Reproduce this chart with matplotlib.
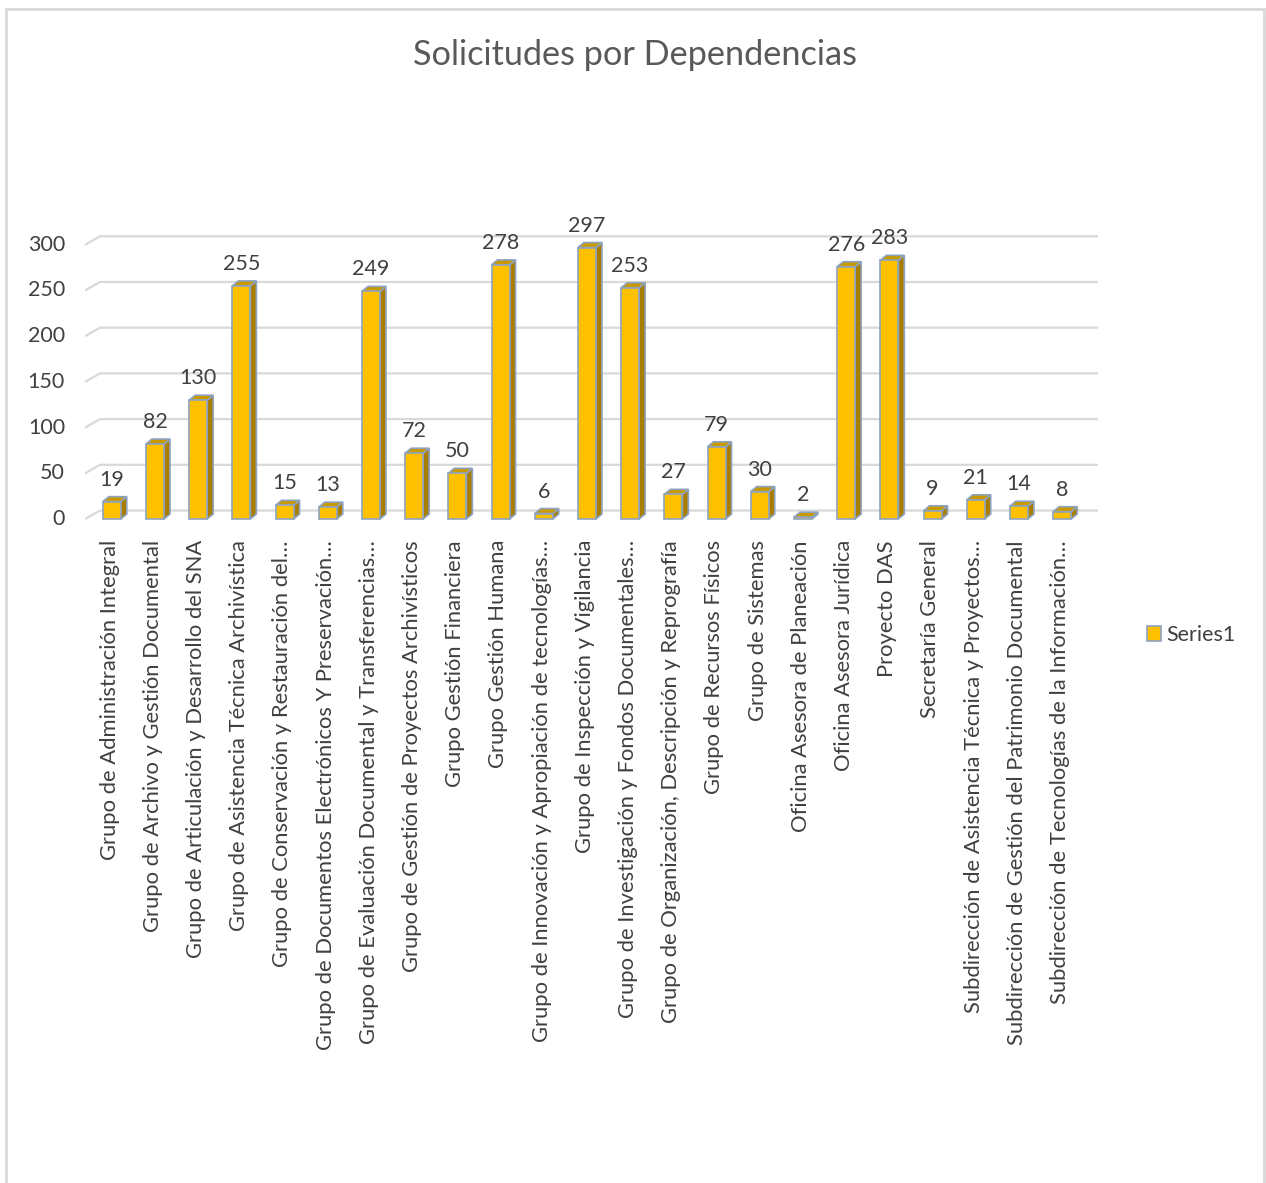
import matplotlib.pyplot as plt
from matplotlib.patches import Polygon, Rectangle, Patch
import matplotlib as mpl

mpl.rcParams['font.family'] = ['Lato', 'DejaVu Sans']

categories = [
    'Grupo de Administración Integral',
    'Grupo de Archivo y Gestión Documental',
    'Grupo de Articulación y Desarrollo del SNA',
    'Grupo de Asistencia Técnica Archivística',
    'Grupo de Conservación y Restauración del…',
    'Grupo de Documentos Electrónicos Y Preservación…',
    'Grupo de Evaluación Documental y Transferencias…',
    'Grupo de Gestión de Proyectos Archivísticos',
    'Grupo Gestión Financiera',
    'Grupo Gestión Humana',
    'Grupo de Innovación y Apropiación de tecnologías…',
    'Grupo de Inspección y Vigilancia',
    'Grupo de Investigación y Fondos Documentales…',
    'Grupo de Organización, Descripción y Reprografía',
    'Grupo de Recursos Físicos',
    'Grupo de Sistemas',
    'Oficina Asesora de Planeación',
    'Oficina Asesora Jurídica',
    'Proyecto DAS',
    'Secretaría General',
    'Subdirección de Asistencia Técnica y Proyectos…',
    'Subdirección de Gestión del Patrimonio Documental',
    'Subdirección de Tecnologías de la Información…',
]
values = [19, 82, 130, 255, 15, 13, 249, 72, 50, 278, 6, 297, 253, 27, 79, 30,
          2, 276, 283, 9, 21, 14, 8]
y_ticks = [0, 50, 100, 150, 200, 250, 300]

W, H = 1266, 1183
fig = plt.figure(figsize=(W / 100, H / 100), dpi=100)

# axes placed so one category = 43.2 px, one unit = 0.913 px
x0, x1 = -0.62, 22.9
y0, y1 = -12, 349
ax = fig.add_axes([85 / W, (H - 530) / H, 1016 / W, 330 / H])
ax.set_xlim(x0, x1)
ax.set_ylim(y0, y1)
ax.axis('off')

# perspective depth (data units)
ddx = 6 / 43.2
ddy = 5 / 0.913
gdx = 15 / 43.2
gdy = 8.5 / 0.913

txt_c = '#404040'
grid_c = '#d9d9d9'
for v in y_ticks:
    ax.plot([x0, x0 + gdx, (1098 - 85) / 43.2 + x0], [v, v + gdy, v + gdy],
            color=grid_c, lw=1.6, zorder=1, solid_capstyle='butt')
    ax.text(x0 - 20 / 43.2, v, str(v), ha='right', va='center',
            fontsize=15.5, color=txt_c)

bw = 18 / 43.2
front_c = '#ffc000'
side_c = '#a87d00'
top_c = '#c99a00'
edge_c = '#8ea3c0'
for i, v in enumerate(values):
    xl = i - bw / 2
    xr = i + bw / 2
    ax.add_patch(Polygon([(xr, 0), (xr + ddx, ddy), (xr + ddx, v + ddy), (xr, v)],
                         closed=True, fc=side_c, ec=edge_c, lw=1.2, zorder=3))
    ax.add_patch(Polygon([(xl, v), (xr, v), (xr + ddx, v + ddy), (xl + ddx, v + ddy)],
                         closed=True, fc=top_c, ec=edge_c, lw=1.2, zorder=3))
    ax.add_patch(Rectangle((xl, 0), bw, v, fc=front_c, ec=edge_c, lw=1.2, zorder=4))
    ax.text(i, v + 22 / 0.913, str(v), ha='center', va='center',
            fontsize=15.5, color=txt_c, zorder=5)
    ax.text(i - 0.05, -21 / 0.913, categories[i], rotation=90, ha='center', va='top',
            fontsize=15.8, color=txt_c, zorder=5)

fig.text(635 / W, 1 - 55 / H, 'Solicitudes por Dependencias', ha='center', va='center',
         fontsize=24.7, color='#595959')

fig.legend(handles=[Patch(fc=front_c, ec=edge_c, lw=1.2)], labels=['Series1'],
           loc='center left', bbox_to_anchor=(1128 / W, 1 - 635 / H), frameon=False,
           fontsize=15.5, handlelength=0.65, handleheight=0.65, handletextpad=0.25,
           labelcolor=txt_c)

# outer chart frame
fig.add_artist(Rectangle((6 / W, -0.01), (1258 / W), 1 - 9 / H + 0.01,
                         transform=fig.transFigure, fill=False, ec='#d9d9d9', lw=2))

fig.savefig('out.png', dpi=100)
